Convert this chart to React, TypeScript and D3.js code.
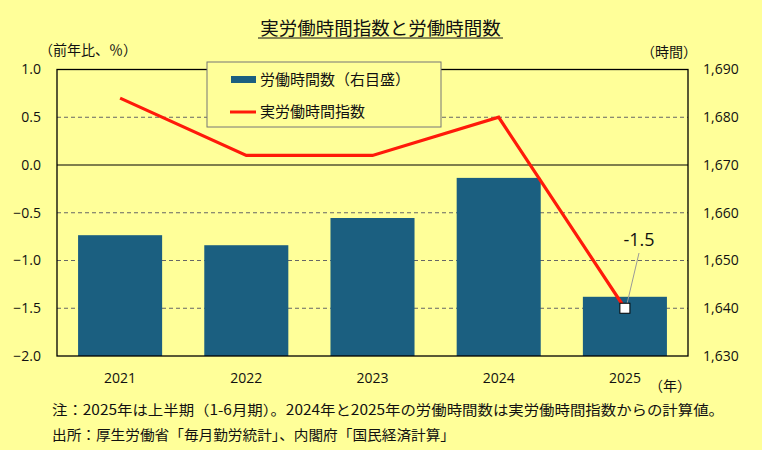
import React from "react";
import * as d3 from "d3";

const years = ["2021", "2022", "2023", "2024", "2025"];
const hours = [1655.3, 1653.2, 1658.9, 1667.3, 1642.4];
const indexYoY = [0.7, 0.1, 0.1, 0.5, -1.5];
const leftTicks = [1.0, 0.5, 0.0, -0.5, -1.0, -1.5, -2.0];
const rightTicks = [1690, 1680, 1670, 1660, 1650, 1640, 1630];
const title = "実労働時間指数と労働時間数";
const note1 = "注：2025年は上半期（1-6月期）。2024年と2025年の労働時間数は実労働時間指数からの計算値。";
const note2 = "出所：厚生労働省「毎月勤労統計」、内閣府「国民経済計算」";
const legendBar = "労働時間数（右目盛）";
const legendLine = "実労働時間指数";
const lastLabel = "-1.5";

const W = 762;
const H = 450;
const BG = "#FFFF99";
const BAR = "#1B5F80";
const RED = "#FF1A0A";
const FONT = "'Noto Sans CJK JP', 'Noto Sans', sans-serif";
const NUMFONT = "'Open Sans', 'Noto Sans', sans-serif";

export default function App() {
  const left = 57, right = 688, top = 69.5, bottom = 356;
  const x = d3.scaleBand<string>().domain(years).range([left, right]).paddingInner(0.334).paddingOuter(0.167);
  const yL = d3.scaleLinear().domain([-2, 1]).range([bottom, top]);
  const yR = d3.scaleLinear().domain([1630, 1690]).range([bottom, top]);
  const cx = (d: string) => (x(d) as number) + x.bandwidth() / 2;
  const line = d3.line<number>().x((_, i) => cx(years[i])).y((v) => yL(v));
  const lastX = cx(years[4]);
  const lastY = yL(indexYoY[4]);

  return (
    <svg width={W} height={H} style={{ position: "absolute", left: 0, top: 0, display: "block" }} fontFamily={FONT}>
      <rect x={0} y={0} width={W} height={H} fill={BG} />
      {/* title */}
      <text x={380.5} y={35} textAnchor="middle" fontSize={18.5} fill="#111">{title}</text>
      <line x1={258} x2={503} y1={38} y2={38} stroke="#111" strokeWidth={1} />
      {/* axis titles */}
      <text x={88} y={55} textAnchor="middle" fontSize={14} fill="#111">（前年比、％）</text>
      <text x={669} y={57} textAnchor="middle" fontSize={14} fill="#111">（時間）</text>
      <text x={670} y={391} textAnchor="middle" fontSize={14} fill="#111">（年）</text>
      {/* grid */}
      {leftTicks.filter((t) => t !== 0 && t !== 1 && t !== -2).map((t) => (
        <line key={"g" + t} x1={left} x2={right} y1={yL(t)} y2={yL(t)} stroke="#666" strokeWidth={1} strokeDasharray="4,3" />
      ))}
      {/* bars */}
      {years.map((yr, i) => (
        <rect key={"b" + yr} x={x(yr)} y={yR(hours[i])} width={x.bandwidth()} height={bottom - yR(hours[i])} fill={BAR} />
      ))}
      {/* zero line and frame */}
      <line x1={left} x2={right} y1={yL(0)} y2={yL(0)} stroke="#000" strokeWidth={1.2} />
      <rect x={left} y={top} width={right - left} height={bottom - top} fill="none" stroke="#000" strokeWidth={1.3} />
      {/* line */}
      <path d={line(indexYoY) as string} fill="none" stroke={RED} strokeWidth={3.2} strokeLinejoin="miter" />
      {/* leader + label */}
      <line x1={639} y1={253} x2={lastX + 2} y2={lastY - 4} stroke="#999" strokeWidth={1} />
      <text x={639} y={246} textAnchor="middle" fontSize={18} fontFamily={NUMFONT} fill="#111">{lastLabel}</text>
      <rect x={lastX - 5} y={lastY - 5} width={10} height={10} fill="#fff" stroke="#000" strokeWidth={1} />
      {/* left ticks */}
      {leftTicks.map((t) => (
        <text key={"l" + t} x={41} y={yL(t)} dy="0.35em" textAnchor="end" fontSize={14} fontFamily={NUMFONT} fill="#111">
          {d3.format(".1f")(t)}
        </text>
      ))}
      {/* right ticks */}
      {rightTicks.map((t) => (
        <text key={"r" + t} x={703} y={yR(t)} dy="0.35em" textAnchor="start" fontSize={14} fontFamily={NUMFONT} fill="#111">
          {d3.format(",")(t)}
        </text>
      ))}
      {/* x labels */}
      {years.map((yr) => (
        <text key={"x" + yr} x={cx(yr)} y={378} dy="0.35em" textAnchor="middle" fontSize={14} fontFamily={NUMFONT} fill="#111">
          {yr}
        </text>
      ))}
      {/* legend */}
      <rect x={207} y={62} width={234} height={65} fill={BG} stroke="#777" strokeWidth={1} />
      <rect x={231} y={76} width={25} height={7} fill={BAR} />
      <text x={260} y={80} dy="0.35em" fontSize={15} fill="#111">{legendBar}</text>
      <line x1={230} x2={256} y1={112} y2={112} stroke={RED} strokeWidth={3} />
      <text x={260} y={112} dy="0.35em" fontSize={15} fill="#111">{legendLine}</text>
      {/* notes */}
      <text x={52} y={410} dy="0.35em" fontSize={14} fill="#111" textLength={672} lengthAdjust="spacingAndGlyphs">{note1}</text>
      <text x={52} y={435} dy="0.35em" fontSize={14} fill="#111" textLength={403} lengthAdjust="spacingAndGlyphs">{note2}</text>
    </svg>
  );
}
